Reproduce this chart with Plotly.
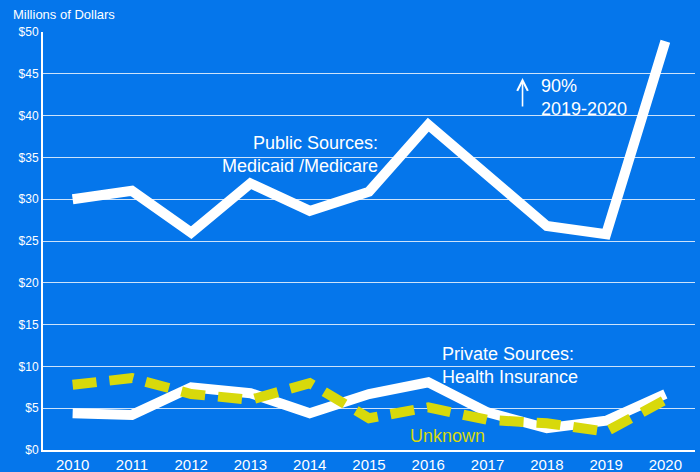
import plotly.graph_objects as go

years = [2010, 2011, 2012, 2013, 2014, 2015, 2016, 2017, 2018, 2019, 2020]
public = [30.0, 31.0, 26.0, 31.9, 28.6, 30.9, 38.9, 32.9, 26.8, 25.8, 48.9]
private = [4.4, 4.2, 7.5, 6.8, 4.4, 6.7, 8.1, 4.5, 2.6, 3.5, 6.7]
unknown = [7.8, 8.6, 6.7, 6.0, 8.0, 3.8, 5.1, 3.6, 3.2, 2.2, 6.0]
yticks = [0, 5, 10, 15, 20, 25, 30, 35, 40, 45, 50]
ytext = ["$" + str(v) for v in yticks]

BG = "#0576eb"
YEL = "#d8d90b"

fig = go.Figure()
fig.add_trace(go.Scatter(x=years, y=public, mode="lines",
                         line=dict(color="white", width=10), name="Public"))
fig.add_trace(go.Scatter(x=years, y=private, mode="lines",
                         line=dict(color="white", width=10), name="Private"))
fig.add_trace(go.Scatter(x=years, y=unknown, mode="lines",
                         line=dict(color=YEL, width=10, dash="24px,13px"), name="Unknown"))

fig.update_layout(
    width=700, height=472,
    paper_bgcolor=BG, plot_bgcolor=BG,
    margin=dict(l=43, r=5, t=32, b=22),
    showlegend=False,
    font=dict(family="Liberation Sans, Arial", color="white"),
    xaxis=dict(range=[2009.5, 2020.5], tickmode="array", tickvals=years,
               ticktext=[str(y) for y in years], showgrid=False,
               showline=True, linecolor="white", linewidth=2, automargin=False,
               tickfont=dict(size=15, color="white"), ticks="", zeroline=False),
    yaxis=dict(range=[0, 50], tickmode="array", tickvals=yticks, ticktext=ytext,
               showgrid=True, gridcolor="rgba(255,255,255,0.8)", gridwidth=1,
               showline=True, linecolor="white", linewidth=2, automargin=False,
               tickfont=dict(size=12, color="white"), ticks="", zeroline=False),
    annotations=[
        dict(text="Millions of Dollars", xref="paper", yref="paper", x=-0.049, y=1.0,
             yshift=18, xanchor="left", yanchor="middle", showarrow=False,
             font=dict(size=13, color="white")),
        dict(text="Public Sources:<br>Medicaid /Medicare", xref="x", yref="y",
             x=2015.19, y=35.3, xanchor="right", yanchor="middle", showarrow=False,
             align="right", font=dict(size=18, color="white")),
        dict(text="90%<br>2019-2020", xref="x", yref="y",
             x=2017.86, y=42.2, xanchor="left", yanchor="middle", showarrow=False,
             align="left", font=dict(size=18, color="white")),
        dict(text="", xref="x", yref="y", x=2017.59, y=44.5,
             ax=2017.59, ay=40.9, axref="x", ayref="y", showarrow=True,
             arrowhead=5, arrowsize=1.3, arrowwidth=1.6, arrowcolor="white"),
        dict(text="Private Sources:<br>Health Insurance", xref="x", yref="y",
             x=2016.19, y=10.05, xanchor="left", yanchor="middle", showarrow=False,
             align="left", font=dict(size=18, color="white")),
        dict(text="Unknown", xref="x", yref="y",
             x=2016.32, y=1.67, xanchor="center", yanchor="middle", showarrow=False,
             font=dict(size=18, color=YEL)),
    ],
)

fig.write_html("out.html", config={"displayModeBar": False},
               post_script="document.body.style.margin='0';document.body.style.overflow='hidden';")
